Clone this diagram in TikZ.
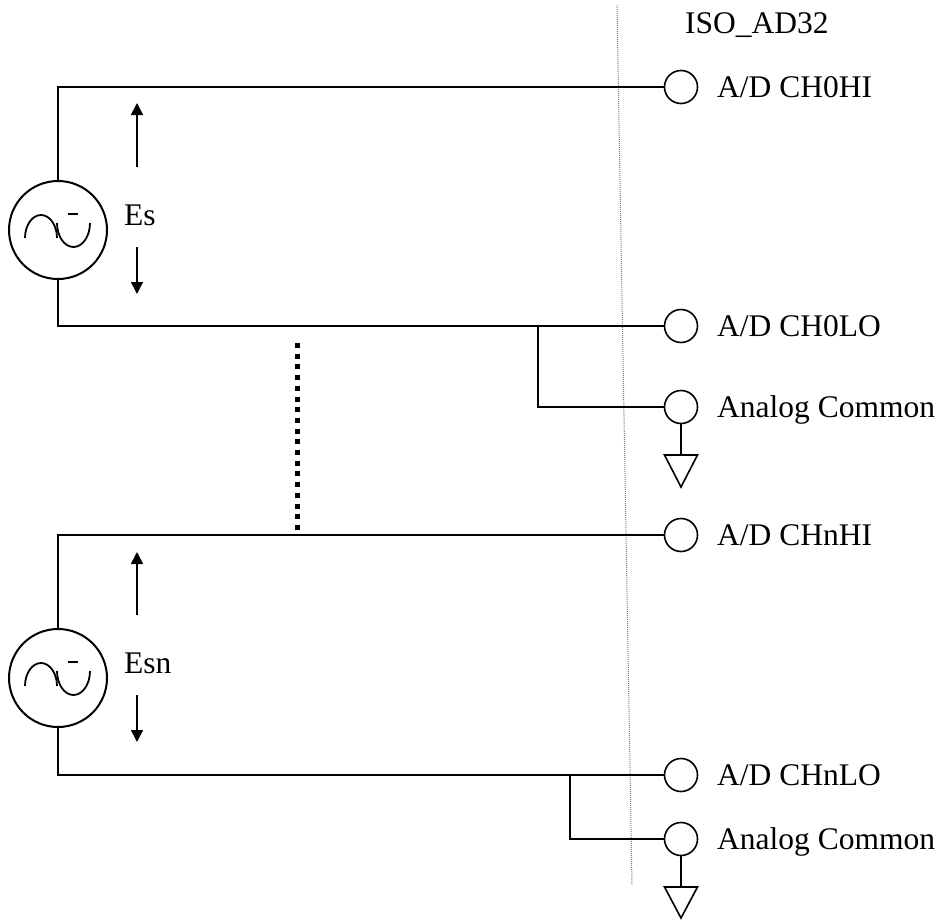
\documentclass[tikz,border=0pt]{standalone}
\usepackage{fontspec}
\setmainfont{Liberation Serif}
\usetikzlibrary{arrows.meta}
\begin{document}
\begin{tikzpicture}[x=1pt,y=-1pt,
 wire/.style={line width=2pt},
 term/.style={circle,draw,line width=1.6pt,minimum size=33pt,inner sep=0pt},
 src/.style={circle,draw,line width=2pt,minimum size=98pt,inner sep=0pt},
 lbl/.style={anchor=base west,inner sep=0pt,font=\fontsize{31.5}{36}\selectfont},
 varrow/.style={line width=1.6pt,-{Triangle[length=12pt,width=12pt]}},
 gnd/.style={line width=1.6pt,line join=miter},
 border/.style={line width=1pt,gray,dash pattern=on 1pt off 1pt},
 sinestyle/.style={line width=1.8pt},
]
\useasboundingbox (0,0) rectangle (943,921);

% isolation border
\coordinate (btop) at (617,5);
\coordinate (bbot) at (632,885);
\draw[border] (btop) -- (bbot);

\node[lbl] (title) at (685,33) {ISO\_AD32};

% terminals
\node[term] (t1) at (681,87) {};
\node[term] (t2) at (681,326) {};
\node[term] (t3) at (681,407) {};
\node[term] (t4) at (681,535) {};
\node[term] (t5) at (681,775) {};
\node[term] (t6) at (681,839) {};

\node[lbl] (l1) at (717,97) {A/D CH0HI};
\node[lbl] (l2) at (717,336) {A/D CH0LO};
\node[lbl] (l3) at (717,417) {Analog Common};
\node[lbl] (l4) at (717,545) {A/D CHnHI};
\node[lbl] (l5) at (717,785) {A/D CHnLO};
\node[lbl] (l6) at (717,849) {Analog Common};

% sources
\node[src] (s1) at (58,230) {};
\node[src] (s2) at (58,678) {};

\foreach \s/\cy in {s1/230,s2/678}{
  \draw[sinestyle] (25,\cy+8) arc[start angle=180,end angle=360,x radius=16,y radius=23];
  \draw[sinestyle] (57,\cy-7) arc[start angle=180,end angle=0,x radius=16.5,y radius=24];
  \draw[line width=1.5pt] (68,\cy-16) -- (78,\cy-16);
}

\node[lbl] (es) at (124,225) {Es};
\node[lbl] (esn) at (124,673) {Esn};

% wires section 1
\draw[wire] (s1.north) |- (t1.west);
\draw[wire] (s1.south) |- (t2.west);
\coordinate (j1) at (538,326);
\draw[wire] (j1) |- (t3.west);
\coordinate (g1) at (681,455);
\draw[wire] (t3.south) -- (g1);
\draw[gnd] ([xshift=-16.5pt]g1) -- ([xshift=16.5pt]g1) -- ([yshift=-32pt]g1) -- cycle;

% wires section 2
\draw[wire] (s2.north) |- (t4.west);
\draw[wire] (s2.south) |- (t5.west);
\coordinate (j2) at (570,775);
\draw[wire] (j2) |- (t6.west);
\coordinate (g2) at (681,887);
\draw[wire] (t6.south) -- (g2);
\draw[gnd] ([xshift=-16.5pt]g2) -- ([xshift=16.5pt]g2) -- ([yshift=-31pt]g2) -- cycle;

% voltage arrows
\draw[varrow] (137,167) -- (137,103);
\draw[varrow] (137,247) -- (137,294);
\draw[varrow] (137,615) -- (137,552);
\draw[varrow] (137,695) -- (137,742);

% thick dotted link
\coordinate (dtop) at (297,343);
\coordinate (dbot) at (297,535);
\draw[line width=5pt,dash pattern=on 5pt off 5.7pt] (dtop) -- (dbot);
\end{tikzpicture}
\end{document}
